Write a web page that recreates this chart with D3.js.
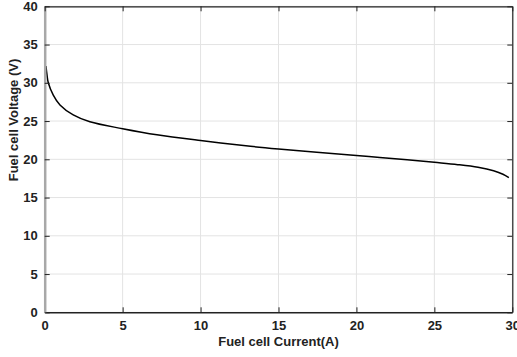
<!DOCTYPE html>
<html>
<head>
<meta charset="utf-8">
<script src="https://cdn.jsdelivr.net/npm/d3@7"></script>
<style>
  body { margin: 0; background: #fff; }
  text { font-family: "Liberation Sans", Arial, sans-serif; font-weight: bold; fill: #222; }
</style>
</head>
<body>
<div id="chart"></div>
<script>
var width = 517, height = 357;
var margin = {left: 44.7, right: 4.7, top: 6.3, bottom: 44.7};

// values
var current = [0.08, 0.15, 0.23, 0.55, 0.98, 1.83, 2.9, 5, 7.2, 10, 13.2, 15, 20, 21.5, 25, 26.5, 27.8, 28.8, 29.4, 29.78];
var voltage = [32.2, 31.0, 30, 28.4, 27.1, 25.8, 24.9, 24.0, 23.2, 22.45, 21.7, 21.35, 20.5, 20.25, 19.6, 19.3, 18.95, 18.5, 18.05, 17.6];
var xTicks = [0, 5, 10, 15, 20, 25, 30];
var yTicks = [0, 5, 10, 15, 20, 25, 30, 35, 40];

var x0 = margin.left, x1 = width - margin.right;
var y0 = height - margin.bottom, y1 = margin.top;

var svg = d3.select('#chart')
    .append('svg')
    .attr('width', width)
    .attr('height', height);

var xScale = d3.scaleLinear().domain([0, 30]).range([x0, x1]);
var yScale = d3.scaleLinear().domain([0, 40]).range([y0, y1]);

// grid
svg.selectAll('.vgrid').data(xTicks).enter().append('line')
    .attr('x1', d => xScale(d)).attr('x2', d => xScale(d))
    .attr('y1', y0).attr('y2', y1)
    .attr('stroke', '#e3e3e3').attr('stroke-width', 1);
svg.selectAll('.hgrid').data(yTicks).enter().append('line')
    .attr('y1', d => yScale(d)).attr('y2', d => yScale(d))
    .attr('x1', x0).attr('x2', x1)
    .attr('stroke', '#e3e3e3').attr('stroke-width', 1);

// curve
var points = current.map((c, i) => [c, voltage[i]]);
var line = d3.line()
    .x(d => xScale(d[0]))
    .y(d => yScale(d[1]))
    .curve(d3.curveCatmullRom.alpha(0.5));
svg.append('path')
    .datum(points)
    .attr('d', line)
    .attr('fill', 'none')
    .attr('stroke', '#000')
    .attr('stroke-width', 1.5);

// axes
svg.append('g').attr('transform', 'translate(0,' + y0 + ')')
    .call(d3.axisBottom(xScale).tickValues(xTicks).tickSizeInner(-5).tickSizeOuter(0).tickPadding(8))
    .call(g => g.select('.domain').attr('stroke', '#222').attr('stroke-width', 1.5))
    .call(g => g.selectAll('.tick line').attr('stroke', '#222'))
    .call(g => g.selectAll('text').attr('font-size', 13).attr('fill', '#222'));

svg.append('g').attr('transform', 'translate(' + x0 + ',0)')
    .call(d3.axisLeft(yScale).tickValues(yTicks).tickSizeInner(-5).tickSizeOuter(0).tickPadding(7))
    .call(g => g.select('.domain').attr('stroke', '#a8a8a8').attr('stroke-width', 2.5))
    .call(g => g.selectAll('.tick line').attr('stroke', '#222'))
    .call(g => g.selectAll('text').attr('font-size', 13).attr('fill', '#222'));

svg.append('g').attr('transform', 'translate(0,' + y1 + ')')
    .call(d3.axisTop(xScale).tickValues(xTicks).tickSizeInner(-5).tickSizeOuter(0).tickFormat(''))
    .call(g => g.select('.domain').attr('stroke', '#222').attr('stroke-width', 1.2))
    .call(g => g.selectAll('.tick line').attr('stroke', '#222'));

svg.append('g').attr('transform', 'translate(' + x1 + ',0)')
    .call(d3.axisRight(yScale).tickValues(yTicks).tickSizeInner(-5).tickSizeOuter(0).tickFormat(''))
    .call(g => g.select('.domain').attr('stroke', '#222').attr('stroke-width', 1.2))
    .call(g => g.selectAll('.tick line').attr('stroke', '#222'));

// titles
svg.append('text')
    .attr('x', (x0 + x1) / 2)
    .attr('y', 346)
    .attr('text-anchor', 'middle')
    .attr('font-size', 13)
    .text('Fuel cell Current(A)');

svg.append('text')
    .attr('transform', 'translate(18,120) rotate(-90)')
    .attr('text-anchor', 'middle')
    .attr('font-size', 13)
    .text('Fuel cell Voltage (V)');
</script>
</body>
</html>
